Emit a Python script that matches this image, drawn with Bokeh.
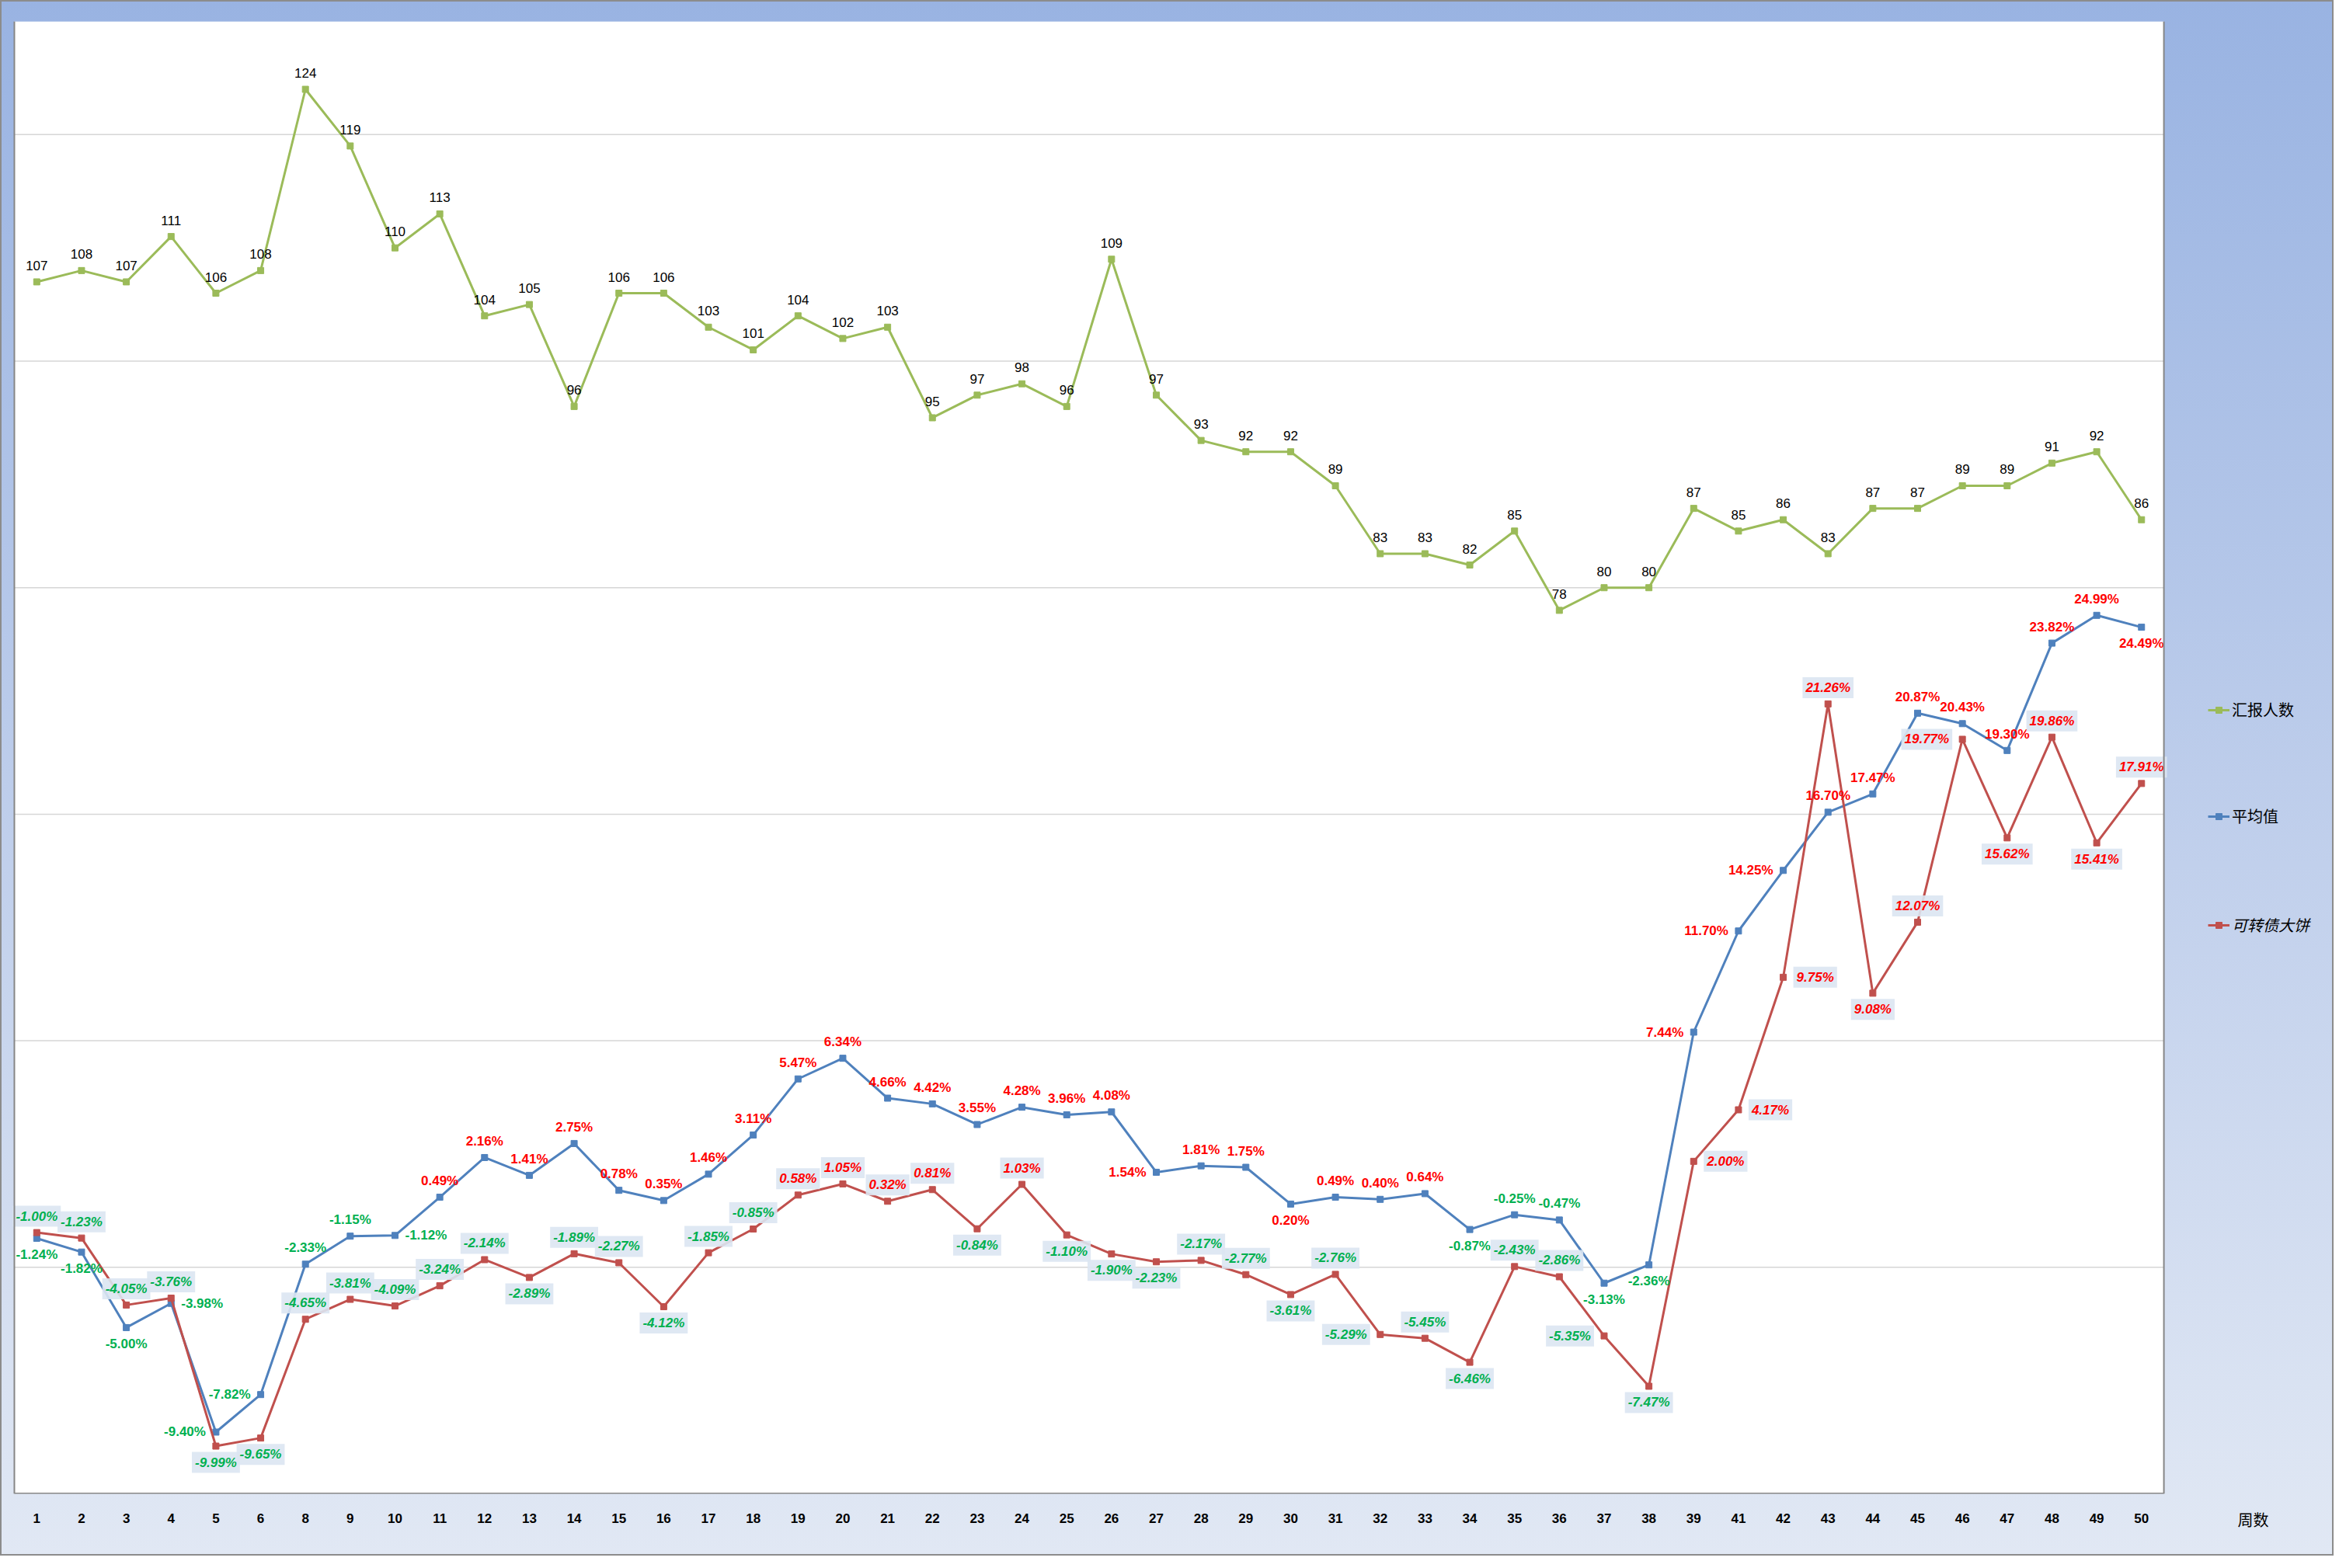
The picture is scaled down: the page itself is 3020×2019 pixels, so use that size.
from bokeh.plotting import figure
from bokeh.models import (FactorRange, Range1d, ColumnDataSource, Span, Legend, LegendItem, Title)
from bokeh.core.properties import value
from bokeh.embed import file_html
from bokeh.resources import INLINE

# ---------------- data ----------------
weeks = ["1", "2", "3", "4", "5", "6", "8", "9", "10", "11", "12", "13", "14", "15", "16",
         "17", "18", "19", "20", "21", "22", "23", "24", "25", "26", "27", "28", "29", "30",
         "31", "32", "33", "34", "35", "36", "37", "38", "39", "41", "42", "43", "44", "45",
         "46", "47", "48", "49", "50"]

reporters = [107, 108, 107, 111, 106, 108, 124, 119, 110, 113, 104, 105, 96, 106, 106,
             103, 101, 104, 102, 103, 95, 97, 98, 96, 109, 97, 93, 92, 92,
             89, 83, 83, 82, 85, 78, 80, 80, 87, 85, 86, 83, 87, 87,
             89, 89, 91, 92, 86]

avg_pct = [-1.24, -1.82, -5.00, -3.98, -9.40, -7.82, -2.33, -1.15, -1.12, 0.49, 2.16, 1.41,
           2.75, 0.78, 0.35, 1.46, 3.11, 5.47, 6.34, 4.66, 4.42, 3.55, 4.28, 3.96, 4.08,
           1.54, 1.81, 1.75, 0.20, 0.49, 0.40, 0.64, -0.87, -0.25, -0.47, -3.13, -2.36,
           7.44, 11.70, 14.25, 16.70, 17.47, 20.87, 20.43, 19.30, 23.82, 24.99, 24.49]

cb_pct = [-1.00, -1.23, -4.05, -3.76, -9.99, -9.65, -4.65, -3.81, -4.09, -3.24, -2.14, -2.89,
          -1.89, -2.27, -4.12, -1.85, -0.85, 0.58, 1.05, 0.32, 0.81, -0.84, 1.03, -1.10,
          -1.90, -2.23, -2.17, -2.77, -3.61, -2.76, -5.29, -5.45, -6.46, -2.43, -2.86,
          -5.35, -7.47, 2.00, 4.17, 9.75, 21.26, 9.08, 12.07, 19.77, 15.62, 19.86, 15.41, 17.91]

series_names = ["汇报人数", "平均值", "可转债大饼"]
x_title = "周数"

# axis extents (hidden axes) and count-axis gridlines
PCT_MIN, PCT_MAX = -12, 50
CNT_MIN, CNT_MAX = 0, 130
cnt_grid = [20, 40, 60, 80, 100, 120]

# label placement relative to the point: a=above, b=below, l=left, r=right
avg_label_side = ["b", "b", "b", "r", "l", "l", "a", "a", "r", "a", "a", "a",
                  "a", "a", "a", "a", "a", "a", "a", "a", "a", "a", "a", "a", "a",
                  "l", "a", "a", "b", "a", "a", "a", "b", "a", "a", "b", "b",
                  "l", "l", "l", "a", "a", "a", "a", "a", "a", "a", "b"]
cb_label_side = ["a", "a", "a", "a", "b", "b", "a", "a", "a", "a", "a", "b",
                 "a", "a", "b", "a", "a", "a", "a", "a", "a", "b", "a", "b",
                 "b", "b", "a", "a", "b", "a", "l", "a", "b", "a", "a",
                 "l", "b", "r", "r", "r", "a", "b", "a", "l", "b", "a", "b", "a"]

# ---------------- styles ----------------
GREEN = "#9BBB59"
BLUE = "#4F81BD"
RED = "#C0504D"
POS = "#FF0000"
NEG = "#00B050"
AXIS_GRAY = "#868686"
NUM_FONT = "Liberation Sans"
CJK_FONT = "Noto Sans CJK SC"


def placement(sides, dist=21, gap=13):
    xo, yo, al = [], [], []
    for s in sides:
        if s == "a":
            xo.append(0); yo.append(-dist); al.append("center")
        elif s == "b":
            xo.append(0); yo.append(dist); al.append("center")
        elif s == "l":
            xo.append(-gap); yo.append(0); al.append("right")
        else:
            xo.append(gap); yo.append(0); al.append("left")
    return xo, yo, al


axo, ayo, aal = placement(avg_label_side)
cxo, cyo, cal = placement(cb_label_side)

src = ColumnDataSource(dict(
    week=weeks, cnt=reporters, avg=avg_pct, cb=cb_pct,
    cnt_lbl=[str(v) for v in reporters],
    avg_lbl=[f"{v:.2f}%" for v in avg_pct],
    cb_lbl=[f"{v:.2f}%" for v in cb_pct],
    avg_col=[POS if v >= 0 else NEG for v in avg_pct],
    cb_col=[POS if v >= 0 else NEG for v in cb_pct],
    axo=axo, ayo=ayo, aal=aal, cxo=cxo, cyo=cyo, cal=cal,
))

N = len(weeks)
# blank factors on the right give room (inside the frame) for the legend
pad_factors = [" " * (k + 1) for k in range(3)]

W, H = 3004, 2003
BL, BR, BT, BB = 0, 28, 27, 80
p = figure(width=W, height=H,
           x_range=FactorRange(factors=weeks + pad_factors, range_padding=0.312,
                               range_padding_units="absolute"),
           y_range=Range1d(PCT_MIN, PCT_MAX),
           y_axis_location=None,
           output_backend="svg", toolbar_location=None,
           min_border_left=BL, min_border_right=BR, min_border_top=BT, min_border_bottom=BB,
           background_fill_color=None, border_fill_color=None, outline_line_color=None)
p.extra_y_ranges = {"cnt": Range1d(CNT_MIN, CNT_MAX)}
p.styles = {"background": "linear-gradient(to bottom, #99B3E2 0%, #BDCDEB 50%, #E1E8F4 100%)",
            "box-shadow": "inset 0 0 0 2px #8c8c8c"}
p.xgrid.visible = False
p.ygrid.visible = False

# plot area: white box, gridlines, borders
p.quad(left=0, right=N, bottom=PCT_MIN, top=PCT_MAX, fill_color="white", line_color=None)
p.segment(x0=[0] * len(cnt_grid), x1=[N] * len(cnt_grid), y0=cnt_grid, y1=cnt_grid,
          y_range_name="cnt", line_color="#d6d6d6", line_width=1.5)
p.segment(x0=[0], x1=[N], y0=[PCT_MIN], y1=[PCT_MIN], line_color=AXIS_GRAY, line_width=3)
p.add_layout(Span(location=0, dimension="height", line_color=AXIS_GRAY, line_width=2))
p.add_layout(Span(location=N, dimension="height", line_color=AXIS_GRAY, line_width=2))

xa = p.xaxis[0]
xa.axis_line_color = None
xa.major_tick_line_color = None
xa.minor_tick_line_color = None
xa.major_tick_out = 0
xa.major_label_standoff = -44
xa.major_label_text_font = NUM_FONT
xa.major_label_text_font_size = "17px"
xa.major_label_text_font_style = "bold"
xa.major_label_text_color = "#000000"

# ---------------- series ----------------
g_line = p.line("week", "cnt", source=src, y_range_name="cnt", line_color=GREEN, line_width=3)
g_pts = p.scatter("week", "cnt", source=src, y_range_name="cnt", marker="square", size=8,
                  fill_color=GREEN, line_color=GREEN)
b_line = p.line("week", "avg", source=src, line_color=BLUE, line_width=3)
b_pts = p.scatter("week", "avg", source=src, marker="square", size=8,
                  fill_color=BLUE, line_color=BLUE)
r_line = p.line("week", "cb", source=src, line_color=RED, line_width=3)
r_pts = p.scatter("week", "cb", source=src, marker="square", size=8,
                  fill_color=RED, line_color=RED)

# ---------------- data labels ----------------
p.text("week", "cnt", text="cnt_lbl", source=src, y_range_name="cnt",
       y_offset=-21, text_align="center", text_baseline="middle",
       text_font=value(NUM_FONT), text_font_size="17px", text_color="#000000")
p.text("week", "avg", text="avg_lbl", source=src,
       x_offset="axo", y_offset="ayo", text_align="aal", text_baseline="middle",
       text_font=value(NUM_FONT), text_font_size="17px", text_font_style="bold",
       text_color="avg_col")
p.text("week", "cb", text="cb_lbl", source=src,
       x_offset="cxo", y_offset="cyo", text_align="cal", text_baseline="middle",
       text_font=value(NUM_FONT), text_font_size="17px", text_font_style="bold italic",
       text_color="cb_col", background_fill_color="#DCE6F2", background_fill_alpha=0.9,
       padding=4)

# ---------------- legend (inside the frame, right of the plot box) ----------------
leg_common = dict(orientation="vertical", glyph_width=28, glyph_height=20, label_height=20,
                  spacing=108, padding=0, margin=0, label_standoff=3,
                  label_text_font=CJK_FONT, label_text_font_size="20px",
                  label_text_color="#000000", border_line_color=None,
                  background_fill_alpha=0)
leg1 = Legend(items=[LegendItem(label=series_names[0], renderers=[g_line, g_pts]),
                     LegendItem(label=series_names[1], renderers=[b_line, b_pts])],
              location=(2842, 858), **leg_common)
leg2 = Legend(items=[LegendItem(label=series_names[2], renderers=[r_line, r_pts])],
              location=(2842, 718), label_text_font_style="italic", **leg_common)
p.add_layout(leg1)
p.add_layout(leg2)

# x title, placed before the axis in the bottom panel stack
xt = Title(text=x_title, align="right", offset=56, vertical_align="middle",
           text_font=CJK_FONT, text_font_size="20px", text_font_style="normal",
           text_color="#000000", standoff=35)
p.below = [xt, xa]

open("out.html", "w").write(file_html(p, INLINE))
